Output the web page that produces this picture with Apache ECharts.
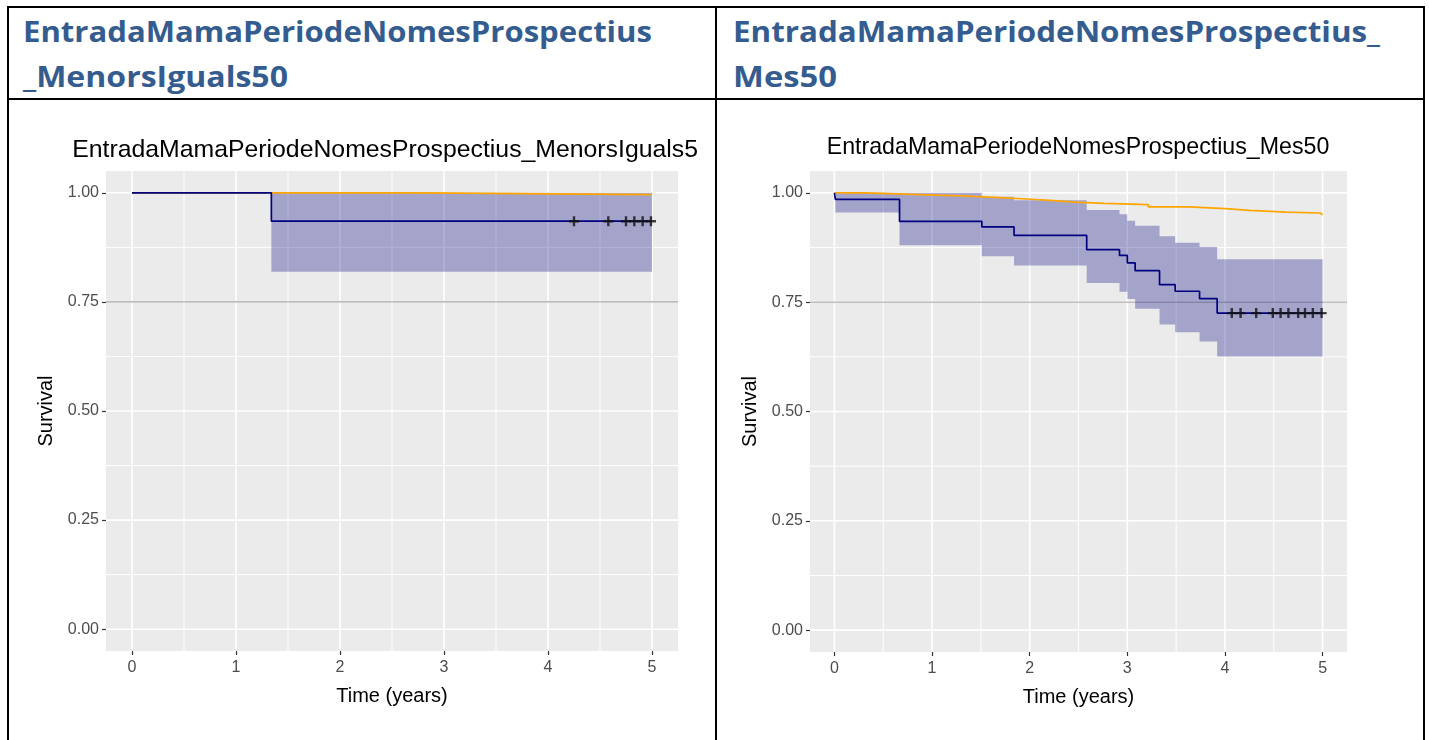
<!DOCTYPE html>
<html><head><meta charset="utf-8">
<script src="https://cdn.jsdelivr.net/npm/echarts@6/dist/echarts.min.js"></script>
<style>
html,body{margin:0;padding:0;background:#fff;width:1429px;height:740px;overflow:hidden;position:relative;}
.b{position:absolute;background:#000;}
.h{position:absolute;font-family:"Open Sans",sans-serif;font-weight:700;font-size:28px;color:#345C8F;white-space:nowrap;transform-origin:0 0;line-height:28px;}
#c1{position:absolute;left:20px;top:105px;width:678px;height:635px;}
#c2{position:absolute;left:725px;top:105px;width:690px;height:635px;}
</style></head><body>
<div class="b" style="left:7px;top:6px;width:1418px;height:2px"></div>
<div class="b" style="left:7px;top:98px;width:1418px;height:2px"></div>
<div class="b" style="left:7px;top:6px;width:2px;height:734px"></div>
<div class="b" style="left:715px;top:6px;width:2px;height:734px"></div>
<div class="b" style="left:1423px;top:6px;width:2px;height:734px"></div>
<div class="h" data-w="629" style="left:23px;top:17px">EntradaMamaPeriodeNomesProspectius</div>
<div class="h" data-w="265" style="left:23px;top:62px">_MenorsIguals50</div>
<div class="h" data-w="647" style="left:733px;top:17px">EntradaMamaPeriodeNomesProspectius_</div>
<div class="h" data-w="104" style="left:733px;top:62px">Mes50</div>
<div id="c1"></div>
<div id="c2"></div>
<script>
// ---- shared axis values ----
const xTicks = [0, 1, 2, 3, 4, 5];
const xMinor = [0.5, 1.5, 2.5, 3.5, 4.5];
const yTicks = [0, 0.25, 0.5, 0.75, 1];
const yMinor = [0.125, 0.375, 0.625, 0.875];
const refLine = [0.75];
const xLabel = "Time (years)";
const yLabel = "Survival";

// ---- left: MenorsIguals50 ----
const titleL = "EntradaMamaPeriodeNomesProspectius_MenorsIguals50";
const kmTimeL = [0, 1.34, 5.0];
const kmSurvL = [1.0, 0.935, 0.935];
const ciTimeL = [1.34, 5.0];
const ciLowL = [0.819];
const ciHighL = [1.0];
const expTimeL = [0, 2.80, 5.0];
const expSurvL = [1.0, 0.996, 0.996];
const censorL = [4.25, 4.58, 4.75, 4.83, 4.91, 4.99];

// ---- right: Mes50 ----
const titleR = "EntradaMamaPeriodeNomesProspectius_Mes50";
const kmTimeR = [0, 0.01, 0.667, 1.51, 1.84, 2.584, 2.92, 3.00, 3.08, 3.33, 3.49, 3.74, 3.92, 5.0];
const kmSurvR = [1.0, 0.985, 0.935, 0.922, 0.903, 0.870, 0.857, 0.840, 0.822, 0.790, 0.775, 0.758, 0.725, 0.725];
const ciTimeR = [0.01, 0.667, 1.51, 1.84, 2.584, 2.92, 3.00, 3.08, 3.33, 3.49, 3.74, 3.92, 5.0];
const ciLowR = [0.955, 0.880, 0.855, 0.834, 0.794, 0.774, 0.757, 0.735, 0.699, 0.681, 0.660, 0.626];
const ciHighR = [1.0, 1.0, 0.991, 0.983, 0.961, 0.951, 0.936, 0.925, 0.901, 0.886, 0.876, 0.848];
const expTimeR = [0, 0.33, 0.876, 1.309, 1.683, 1.969, 2.207, 2.463, 2.757, 3.215, 3.629, 4.003, 4.252, 4.626, 4.974, 5.0];
const expSurvR = [1.0, 0.996, 0.993, 0.989, 0.986, 0.983, 0.979, 0.976, 0.973, 0.968, 0.964, 0.960, 0.956, 0.954, 0.950, 0.950];
const censorR = [4.07, 4.16, 4.32, 4.49, 4.57, 4.65, 4.75, 4.82, 4.90, 4.99];

// header fitting
document.querySelectorAll('.h').forEach(el => {
  const w = el.getBoundingClientRect().width;
  const t = +el.dataset.w;
  el.style.transform = 'scaleX(' + (t / w) + ')';
});

const FF = '"Liberation Sans", Arial, sans-serif';
const PLUS = 'path://M3.8 0h2.4v3.8h3.8v2.4h-3.8v3.8h-2.4v-3.8h-3.8v-2.4h3.8z';

function survAt(times, surv, t) {
  let s = surv[0];
  for (let i = 0; i < times.length; i++) { if (times[i] <= t) s = surv[i]; }
  return s;
}

function gridLines(vals, dim, color, width, z) {
  return {
    type: 'custom', z: z, silent: true, clip: false,
    data: vals.map(v => dim === 'x' ? [v, 0] : [0, v]),
    encode: { x: 0, y: 1 },
    renderItem: (p, api) => {
      const cs = p.coordSys;
      if (dim === 'x') {
        const x = api.coord([api.value(0), 0])[0];
        return { type: 'line', shape: { x1: x, y1: cs.y, x2: x, y2: cs.y + cs.height }, style: { stroke: color, lineWidth: width } };
      }
      const y = api.coord([0, api.value(1)])[1];
      return { type: 'line', shape: { x1: cs.x, y1: y, x2: cs.x + cs.width, y2: y }, style: { stroke: color, lineWidth: width } };
    }
  };
}

function makeOption(c) {
  const ciItems = c.ciLow.map((lo, i) => [c.ciTime[i], c.ciTime[i + 1], lo, c.ciHigh[i]]);
  return {
    animation: false,
    graphic: [{
      type: 'text', x: c.titleX, y: c.titleY, silent: true,
      style: { text: c.title, font: c.titleSize + 'px ' + FF, fill: '#000', align: 'center', verticalAlign: 'middle' }
    }],
    grid: { left: c.gl, top: c.gt, width: c.gw, height: c.gh, show: true, backgroundColor: '#EBEBEB', borderWidth: 0, containLabel: false, outerBoundsMode: 'none' },
    xAxis: {
      type: 'value', min: -0.25, max: 5.25,
      axisLine: { show: false, onZero: false },
      axisTick: { show: true, customValues: xTicks, length: 4, lineStyle: { color: '#333', width: 1.2 } },
      axisLabel: { customValues: xTicks, color: '#4D4D4D', fontSize: c.tickSize, fontFamily: FF, margin: 9 },
      splitLine: { show: false },
      name: xLabel, nameLocation: 'middle', nameGap: 35,
      nameTextStyle: { color: '#000', fontSize: c.nameSize, fontFamily: FF }
    },
    yAxis: {
      type: 'value', min: -0.05, max: 1.05,
      axisLine: { show: false, onZero: false },
      axisTick: { show: true, customValues: yTicks, length: 4, lineStyle: { color: '#333', width: 1.2 } },
      axisLabel: { customValues: yTicks, color: '#4D4D4D', fontSize: c.tickSize, fontFamily: FF, margin: 7, formatter: v => v.toFixed(2) },
      splitLine: { show: false },
      name: yLabel, nameLocation: 'middle', nameGap: c.yGap, nameRotate: 90,
      nameTextStyle: { color: '#000', fontSize: c.nameSize, fontFamily: FF }
    },
    series: [
      gridLines(xMinor, 'x', '#FFFFFF', 1, 1),
      gridLines(yMinor, 'y', '#FFFFFF', 1, 1),
      gridLines(xTicks, 'x', '#FFFFFF', 1.6, 1),
      gridLines(yTicks, 'y', '#FFFFFF', 1.6, 1),
      gridLines(refLine, 'y', '#BEBEBE', 1.6, 2),
      {
        type: 'custom', z: 3, silent: true, clip: true,
        data: ciItems, encode: { x: [0, 1], y: [2, 3] },
        renderItem: (p, api) => {
          if (p.dataIndex !== 0) return null;
          const pts = [];
          ciItems.forEach(d => { pts.push(api.coord([d[0], d[3]])); pts.push(api.coord([d[1], d[3]])); });
          for (let i = ciItems.length - 1; i >= 0; i--) { const d = ciItems[i]; pts.push(api.coord([d[1], d[2]])); pts.push(api.coord([d[0], d[2]])); }
          return { type: 'polygon', shape: { points: pts }, style: { fill: 'rgba(0,0,128,0.3)' } };
        }
      },
      {
        type: 'line', z: 4, step: 'end', symbol: 'none', silent: true,
        data: c.expTime.map((t, i) => [t, c.expSurv[i]]),
        lineStyle: { color: '#FFA500', width: 1.7 }
      },
      {
        type: 'line', z: 5, step: 'end', symbol: 'none', silent: true,
        data: c.kmTime.map((t, i) => [t, c.kmSurv[i]]),
        lineStyle: { color: '#000080', width: 1.7 }
      },
      {
        type: 'scatter', z: 6, silent: true, symbol: PLUS, symbolSize: 10,
        data: c.censor.map(t => [t, survAt(c.kmTime, c.kmSurv, t)]),
        itemStyle: { color: '#111' }
      }
    ]
  };
}

const chL = echarts.init(document.getElementById('c1'), null, { renderer: 'canvas' });
chL.setOption(makeOption({
  title: titleL, titleX: 372, titleY: 45, titleSize: 24.8,
  gl: 86, gt: 66, gw: 572, gh: 480, tickSize: 16, nameSize: 20, yGap: 45,
  kmTime: kmTimeL, kmSurv: kmSurvL, ciTime: ciTimeL, ciLow: ciLowL, ciHigh: ciHighL,
  expTime: expTimeL, expSurv: expSurvL, censor: censorL
}));
const chR = echarts.init(document.getElementById('c2'), null, { renderer: 'canvas' });
chR.setOption(makeOption({
  title: titleR, titleX: 353, titleY: 43, titleSize: 23.2,
  gl: 85, gt: 66, gw: 537, gh: 481, tickSize: 16, nameSize: 20, yGap: 37,
  kmTime: kmTimeR, kmSurv: kmSurvR, ciTime: ciTimeR, ciLow: ciLowR, ciHigh: ciHighR,
  expTime: expTimeR, expSurv: expSurvR, censor: censorR
}));
</script>
</body></html>
